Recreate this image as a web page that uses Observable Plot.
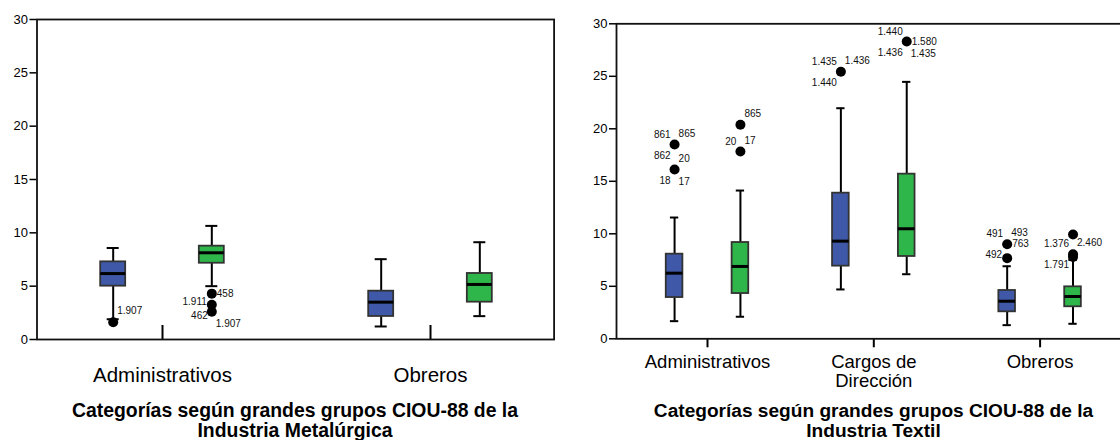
<!DOCTYPE html>
<html>
<head>
<meta charset="utf-8">
<script src="https://cdn.jsdelivr.net/npm/d3@7"></script>
<script src="https://cdn.jsdelivr.net/npm/@observablehq/plot@0.6"></script>
<style>
  body { margin: 0; background: #fff; }
  #chart { position: relative; width: 1120px; height: 440px; overflow: hidden; background: #fff;
           font-family: "Liberation Sans", Arial, sans-serif; }
  .panel { position: absolute; top: 0; height: 440px; }
  .panel svg { display: block; max-width: none; }
  .axis-title { position: absolute; text-align: center; font-weight: bold; color: #000; }
</style>
</head>
<body>
<div id="chart"></div>
<script>
// ---------- data ----------
const groupColors = ["#3f59a8", "#2fb64a"];   // grupo 1 (azul), grupo 2 (verde)
const yTicks = [0, 5, 10, 15, 20, 25, 30];

// Industria Metalúrgica: one pair per category, [grupo 1, grupo 2]
const metalCategories   = ["Administrativos", "Obreros"];
const metalWhiskerLow   = [[1.9, 5.0], [1.22, 2.19]];
const metalQ1           = [[5.0, 7.15], [2.16, 3.5]];
const metalMedian       = [[6.18, 8.13], [3.5, 5.16]];
const metalQ3           = [[7.28, 8.75], [4.53, 6.19]];
const metalWhiskerHigh  = [[8.58, 10.65], [7.53, 9.12]];
// outliers: [category, group, value]
const metalOutliers     = [[0, 0, 1.62], [0, 1, 4.3], [0, 1, 3.25], [0, 1, 2.6]];
// case ids: [outlier index, id]
const metalCaseIds      = [[0, "1.907"], [1, "458"], [2, "1.911"], [2, "462"], [3, "1.907"]];

// Industria Textil
const textilCategories  = ["Administrativos", "Cargos de\nDirección", "Obreros"];
const textilWhiskerLow  = [[1.68, 2.1], [4.7, 6.15], [1.3, 1.43]];
const textilQ1          = [[3.93, 4.31], [6.92, 7.84], [2.57, 3.05]];
const textilMedian      = [[6.25, 6.89], [9.3, 10.48], [3.58, 4.03]];
const textilQ3          = [[8.06, 9.17], [13.87, 15.68], [4.6, 4.95]];
const textilWhiskerHigh = [[11.55, 14.12], [21.96, 24.47], [6.91, 7.5]];
const textilOutliers    = [
  [0, 0, 18.5], [0, 0, 16.12], [0, 1, 20.38], [0, 1, 17.84],
  [1, 0, 25.43], [1, 1, 28.31],
  [2, 0, 9.01], [2, 0, 7.68], [2, 1, 9.93], [2, 1, 8.05], [2, 1, 7.8]
];
const textilCaseIds     = [
  [0, "861"], [0, "865"], [0, "862"], [1, "20"], [1, "18"], [1, "17"],
  [2, "865"], [3, "20"], [3, "17"],
  [4, "1.435"], [4, "1.436"], [4, "1.440"],
  [5, "1.440"], [5, "1.580"], [5, "1.436"], [5, "1.435"],
  [6, "491"], [6, "493"], [6, "763"], [7, "492"],
  [9, "1.376"], [9, "2.460"], [9, "1.791"]
];

// ---------- layout ----------
// where each case id sits around its point
const metalIdSides  = ["ne", "e", "w", "sw", "se"];
const textilIdSides = ["nw", "ne", "sw", "ne", "sw", "se", "ne", "nw", "ne",
                       "nw", "ne", "sw", "nw", "e", "sw", "se", "nw", "ne", "e", "w", "nw", "ne", "sw"];
const sides = {
  nw: {textAnchor: "end",   dx: -4, dy: -10},
  ne: {textAnchor: "start", dx: 4,  dy: -11},
  sw: {textAnchor: "end",   dx: -4, dy: 11},
  se: {textAnchor: "start", dx: 4,  dy: 12},
  e:  {textAnchor: "start", dx: 5,  dy: 0},
  w:  {textAnchor: "end",   dx: -5, dy: -3}
};

function boxPanel(d, L) {
  const pos = (c, g) => c + (g === 0 ? -L.offset : L.offset);
  const boxes = d.categories.flatMap((_, c) => groupColors.map((color, g) => ({
    x: pos(c, g), color,
    low: d.low[c][g], q1: d.q1[c][g], median: d.median[c][g], q3: d.q3[c][g], high: d.high[c][g]
  })));
  const dots = d.outliers.map(([c, g, v]) => ({x: pos(c, g), y: v}));
  const ids = d.caseIds.map(([i, id], k) => ({...dots[i], id, side: d.sides[k]}));
  const catIndex = d.categories.map((_, i) => i);

  const idMarks = Object.entries(sides).map(([s, o]) =>
    Plot.text(ids.filter(t => t.side === s), {
      x: t => t.x, y: t => t.y, text: t => t.id, ...o,
      fontSize: 10, fill: "#111", style: "letter-spacing:-0.5px"
    }));

  return Plot.plot({
    width: L.width, height: 392,
    marginTop: L.marginTop, marginBottom: L.marginBottom,
    marginLeft: L.marginLeft, marginRight: L.marginRight,
    style: {fontFamily: '"Liberation Sans", Arial, sans-serif', background: "transparent", color: "#000", maxWidth: "none"},
    x: {type: "linear", domain: [0, d.categories.length - 1], range: L.xRange},
    y: {type: "linear", domain: [0, 30]},
    marks: [
      Plot.axisY({ticks: yTicks, tickSize: 7, tickPadding: 2, fontSize: 13, strokeWidth: 1.5, label: null}),
      Plot.axisX({ticks: catIndex, tickFormat: i => d.categories[i], tickSize: 0,
                  tickPadding: L.catPadding, fontSize: L.catFont, lineHeight: 1.03, label: null}),
      Plot.ruleX(catIndex, {x: i => i, y1: () => 0, y2: () => 0,
                            insetTop: L.catTickUp, insetBottom: L.catTickDown, stroke: "#000", strokeWidth: 2}),
      // whiskers and caps
      Plot.ruleX(boxes, {x: b => b.x, y1: b => b.low, y2: b => b.high, stroke: "#000", strokeWidth: 2}),
      Plot.ruleY(boxes, {y: b => b.low,  x1: b => b.x - L.capHalf, x2: b => b.x + L.capHalf, stroke: "#000", strokeWidth: 2}),
      Plot.ruleY(boxes, {y: b => b.high, x1: b => b.x - L.capHalf, x2: b => b.x + L.capHalf, stroke: "#000", strokeWidth: 2}),
      // interquartile boxes and medians
      Plot.rect(boxes, {x1: b => b.x - L.boxHalf, x2: b => b.x + L.boxHalf, y1: b => b.q1, y2: b => b.q3,
                        fill: b => b.color, stroke: "#333", strokeWidth: 1.8}),
      Plot.ruleY(boxes, {y: b => b.median, x1: b => b.x - L.boxHalf, x2: b => b.x + L.boxHalf,
                         stroke: "#000", strokeWidth: 3}),
      // outliers and their case ids
      Plot.dot(dots, {x: p => p.x, y: p => p.y, r: 5, fill: "#000", stroke: "none"}),
      ...idMarks,
      Plot.frame({stroke: "#111", strokeWidth: 1.8})
    ]
  });
}

const chart = document.getElementById("chart");

function addPanel(left, width, svg, title, titleBox) {
  const div = document.createElement("div");
  div.className = "panel";
  div.style.left = left + "px";
  div.style.width = width + "px";
  div.appendChild(svg);
  const t = document.createElement("div");
  t.className = "axis-title";
  t.style.left = titleBox.left + "px";
  t.style.top = titleBox.top + "px";
  t.style.width = titleBox.width + "px";
  t.style.fontSize = titleBox.fontSize + "px";
  t.style.lineHeight = titleBox.lineHeight + "px";
  t.innerHTML = title;
  div.appendChild(t);
  chart.appendChild(div);
}

const metalSvg = boxPanel(
  {categories: metalCategories, low: metalWhiskerLow, q1: metalQ1, median: metalMedian,
   q3: metalQ3, high: metalWhiskerHigh, outliers: metalOutliers, caseIds: metalCaseIds, sides: metalIdSides},
  {width: 560, marginTop: 19, marginBottom: 53, marginLeft: 36.5, marginRight: 6.4,
   xRange: [162, 430], offset: 0.184, boxHalf: 0.0466, capHalf: 0.0224,
   catFont: 20.5, catPadding: 27.7, catTickUp: -14, catTickDown: 0}
);
addPanel(0, 560, metalSvg, "Categorías según grandes grupos CIOU-88 de la<br>Industria Metalúrgica",
         {left: 36.5, top: 399.5, width: 517, fontSize: 19.4, lineHeight: 20});

const textilSvg = boxPanel(
  {categories: textilCategories, low: textilWhiskerLow, q1: textilQ1, median: textilMedian,
   q3: textilQ3, high: textilWhiskerHigh, outliers: textilOutliers, caseIds: textilCaseIds, sides: textilIdSides},
  {width: 575, marginTop: 23.3, marginBottom: 53.7, marginLeft: 56, marginRight: 4,
   xRange: [147, 479.6], offset: 0.198, boxHalf: 0.05, capHalf: 0.025,
   catFont: 18.5, catPadding: 15.7, catTickUp: 0, catTickDown: -9}
);
addPanel(560, 575, textilSvg, "Categorías según grandes grupos CIOU-88 de la<br>Industria Textil",
         {left: 56, top: 401, width: 515, fontSize: 19.1, lineHeight: 19.5});
</script>
</body>
</html>
